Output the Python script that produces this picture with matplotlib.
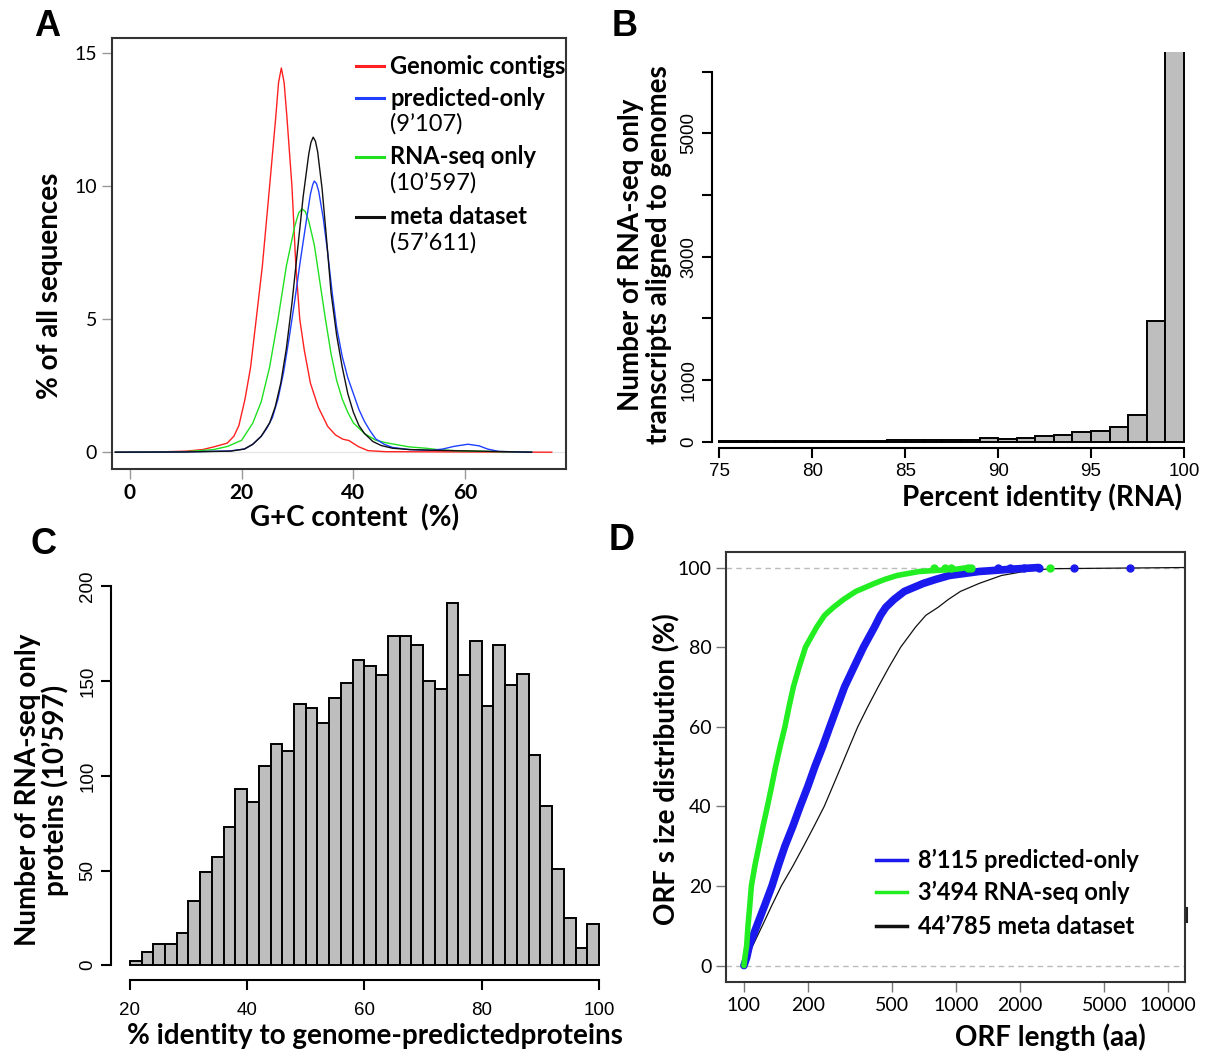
import matplotlib
matplotlib.use("Agg")
import matplotlib.pyplot as plt
from matplotlib.lines import Line2D

# ---- Panel A: G+C content density curves (x = %GC, y = % of sequences)
gc_red_x = [-2.6, 5, 10, 13, 15, 17.4, 18.6, 19.5, 20.6, 21.6, 22.6, 23.7, 25.0, 26.1, 26.6,
            27.1, 27.6, 28.1, 29.0, 29.7, 30.4, 31.2, 32.3, 33.7, 35.4, 36.8, 38.1, 39.2,
            40.9, 42.6, 45.7, 60, 75.5]
gc_red_y = [0.0, 0.01, 0.04, 0.1, 0.2, 0.34, 0.6, 1.0, 2.0, 3.2, 5.0, 7.0, 10.0, 12.6, 13.9,
            14.45, 13.9, 12.6, 10.0, 7.0, 5.0, 3.85, 2.6, 1.7, 0.97, 0.65, 0.49, 0.44,
            0.21, 0.06, 0.02, 0.01, 0.0]
gc_green_x = [-2.6, 10, 15, 17.5, 20, 22, 23.5, 25, 26.5, 28, 29.5, 30.2, 30.8, 31.4, 32, 33,
              34, 35, 36, 37, 38, 39, 40, 42, 44, 46, 50, 53, 55, 58, 62, 66, 71.9]
gc_green_y = [0.0, 0.02, 0.1, 0.22, 0.45, 1.1, 1.9, 3.2, 5.0, 7.0, 8.5, 9.0, 9.15, 9.05,
              8.7, 7.8, 6.4, 5.0, 3.7, 2.7, 2.0, 1.5, 1.1, 0.7, 0.45, 0.35, 0.2, 0.15, 0.1,
              0.06, 0.04, 0.02, 0.0]
gc_blue_x = [-2.6, 10, 18, 20.5, 22, 23.5, 24.5, 25.5, 26.5, 27.5, 28.5, 29.5, 30.5, 31.5,
             32.3, 32.7, 33.0, 33.4, 33.8, 34.6, 35.4, 36.2, 37, 38, 39, 40, 41, 42, 43,
             44, 45.5, 47, 50, 54, 56, 58, 60.5, 62.5, 64, 66, 71.9]
gc_blue_y = [0.0, 0.01, 0.05, 0.12, 0.3, 0.6, 0.9, 1.3, 2.0, 3.0, 4.3, 5.7, 7.2, 8.6,
             9.7, 10.05, 10.2, 10.1, 9.8, 8.8, 7.5, 6.0, 4.7, 3.6, 2.8, 2.2, 1.6, 1.15,
             0.8, 0.5, 0.3, 0.18, 0.1, 0.07, 0.12, 0.22, 0.3, 0.24, 0.12, 0.03, 0.0]
gc_black_x = [-2.6, 10, 18, 20.5, 22, 23.5, 25, 26, 27, 28, 29, 30, 31, 32, 32.4, 32.8,
              33.2, 33.6, 34.4, 35.2, 36, 37, 38, 39, 40, 41, 42, 43.5, 45, 47, 50, 55,
              60, 65, 71.9]
gc_black_y = [0.0, 0.01, 0.04, 0.12, 0.3, 0.6, 1.1, 1.7, 2.6, 3.9, 5.6, 7.6, 9.6, 11.2,
              11.65, 11.85, 11.7, 11.3, 9.9, 8.0, 6.0, 4.4, 3.2, 2.2, 1.5, 1.0, 0.7, 0.4,
              0.25, 0.15, 0.1, 0.07, 0.05, 0.03, 0.0]
gc_names = ["Genomic contigs", "predicted-only", "RNA-seq only", "meta dataset"]
gc_counts = ["", "(9\u2019107)", "(10\u2019597)", "(57\u2019611)"]
gc_colors = ["#ff2020", "#2040ff", "#20e020", "#111111"]

# ---- Panel B: percent identity (RNA), 1% bins
rna_bins = list(range(75, 100))
rna_counts = [10, 8, 8, 10, 10, 15, 15, 15, 15, 25, 25, 35, 30, 32, 65, 49, 59, 95,
              103, 151, 178, 243, 425, 1960, 6400]

# ---- Panel C: % identity to genome-predicted proteins, 2% bins
prot_bins = list(range(20, 100, 2))
prot_counts = [2, 7, 11, 11, 17, 34, 49, 57, 73, 93, 86, 105, 117, 113, 138, 136, 128,
               141, 149, 161, 158, 153, 174, 174, 169, 150, 146, 191, 153, 171, 137, 169,
               148, 154, 111, 84, 51, 25, 9, 22]

# ---- Panel D: cumulative ORF size distribution (x = ORF length, y = %)
orf_green_x = [100, 101, 103, 104.5, 106.5, 108.4, 112.5, 117.6, 123, 129, 135, 141, 148,
               156, 163, 171, 182, 195, 220, 240, 264, 295, 337, 412, 460, 527, 670, 1005,
               1135]
orf_green_y = [0, 2, 5, 10, 15, 20, 25, 30, 35, 40, 45, 50, 55, 60, 65, 70, 75, 80, 85,
               88, 90, 92, 94, 96, 97, 98, 99, 99.6, 100]
orf_green_tail = [788, 890, 948, 1135, 1180, 2770]
orf_blue_x = [100, 103, 106, 115, 125, 135.5, 145, 156, 170, 184, 200, 216, 235, 254, 275,
              298, 330, 366, 412, 440, 466, 510, 570, 700, 800, 929, 1283, 1845, 2450]
orf_blue_y = [0, 2, 5, 10, 15, 20, 25, 30, 35, 40, 45, 50, 55, 60, 65, 70, 75, 80, 85, 88,
              90, 92, 94, 96, 97, 98, 99, 99.6, 100]
orf_blue_tail = [1570, 1800, 2100, 2450, 3580, 6600]
orf_black_x = [100, 104, 110, 122, 135, 150, 170, 191, 214, 239, 262, 287, 314, 344, 383,
               429, 483, 548, 643, 720, 822, 920, 1048, 1283, 1636, 2085, 2770, 11988]
orf_black_y = [0, 2, 5, 10, 15, 20, 25, 30, 35, 40, 45, 50, 55, 60, 65, 70, 75, 80, 85,
               88, 90, 92, 94, 96, 98, 99, 99.7, 100]
orf_labels = ["8\u2019115 predicted-only", "3\u2019494 RNA-seq only", "44\u2019785 meta dataset"]
orf_colors = ["#1a1aee", "#22ee22", "#111111"]

W, H = 1206, 1052
LAB = "Lato"
LSZ = 20
fig = plt.figure(figsize=(W / 100, H / 100), dpi=100)


def box(l, t, r, b):
    return [l / W, 1 - b / H, (r - l) / W, (b - t) / H]


def ftext(x, y, s, **kw):
    kw.setdefault("ha", "center")
    kw.setdefault("va", "center")
    fig.text(x / W, 1 - y / H, s, **kw)


def fline(x0, x1, y0, y1, **kw):
    fig.add_artist(Line2D([x0 / W, x1 / W], [1 - y0 / H, 1 - y1 / H], transform=fig.transFigure, **kw))


# ---------------- A
axA = fig.add_axes(box(111.5, 37.7, 565.7, 468.7))
axA.axhline(0, color="#e6e6e6", lw=1, zorder=0)
for xs, ys, c in [(gc_red_x, gc_red_y, gc_colors[0]), (gc_green_x, gc_green_y, gc_colors[2]),
                  (gc_blue_x, gc_blue_y, gc_colors[1]), (gc_black_x, gc_black_y, gc_colors[3])]:
    axA.plot(xs, ys, color=c, lw=1.0, solid_joinstyle="round")
axA.set_xlim(-3.3, 78.0)
axA.set_ylim(-0.62, 15.59)
axA.set_xticks([0, 20, 40, 60])
axA.set_yticks([0, 5, 10, 15])
axA.tick_params(direction="out", length=7, color="#999999", width=1, labelsize=14)
for lab in axA.get_xticklabels():
    lab.set_fontfamily(LAB)
    lab.set_fontweight("bold")
    lab.set_fontsize(15)
for lab in axA.get_yticklabels():
    lab.set_fontfamily(LAB)
for s in axA.spines.values():
    s.set_color("#333333")
    s.set_linewidth(1.5)

rows = [(66, None), (98, 124), (157, 183), (217, 243)]
for (yl, yc), name, cnt, col in zip(rows, gc_names, gc_counts, gc_colors):
    fline(356, 384, yl, yl, color=col, lw=2.2)
    ftext(390, yl, name, ha="left", family=LAB, fontweight="bold", fontsize=17)
    if yc is not None:
        ftext(390, yc, cnt, ha="left", family=LAB, fontsize=17)

ftext(355, 518, "G+C content  (%)", family=LAB, fontweight="bold", fontsize=LSZ)
ftext(50, 286, "% of all sequences", family=LAB, fontweight="bold", fontsize=LSZ, rotation=90)

# ---------------- B
axB = fig.add_axes(box(712, 51.7, 1191.4, 448))
axB.bar(rna_bins, rna_counts, width=1, align="edge", color="#bebebe", edgecolor="black", lw=1.4)
axB.set_xlim(74.6, 100.4)
axB.set_ylim(-102, 6324)
for k in ["top", "right"]:
    axB.spines[k].set_visible(False)
axB.spines["left"].set_bounds(0, 6000)
axB.spines["bottom"].set_bounds(75, 100)
for k in ["left", "bottom"]:
    axB.spines[k].set_linewidth(1.5)
axB.set_yticks(range(0, 6001, 1000))
axB.set_yticklabels(["0", "1000", "", "3000", "", "5000", ""])
axB.set_xticks(range(75, 101, 5))
axB.tick_params(direction="out", length=7, width=1.5, labelsize=13.5)
axB.tick_params(axis="y", labelrotation=90)
for lab in axB.get_yticklabels():
    lab.set_va("center")
for lab in axB.get_xticklabels() + axB.get_yticklabels():
    lab.set_fontfamily("Liberation Sans")

ftext(1042, 497, "Percent identity (RNA)", family=LAB, fontweight="bold", fontsize=LSZ)
ftext(645, 255, "Number of RNA-seq only\ntranscripts aligned to genomes", family=LAB,
      fontweight="bold", fontsize=LSZ, rotation=90, linespacing=1.12, multialignment="center")

# ---------------- C
axC = fig.add_axes(box(111, 585.5, 617.8, 979.7))
axC.bar(prot_bins, prot_counts, width=2, align="edge", color="#bebebe", edgecolor="black", lw=1.4)
axC.set_xlim(16.8, 103.2)
axC.set_ylim(-7.66, 200.5)
for k in ["top", "right"]:
    axC.spines[k].set_visible(False)
axC.spines["left"].set_bounds(0, 200)
axC.spines["bottom"].set_bounds(20, 100)
for k in ["left", "bottom"]:
    axC.spines[k].set_linewidth(1.5)
axC.set_yticks(range(0, 201, 50))
axC.set_xticks(range(20, 101, 20))
axC.tick_params(direction="out", length=7, width=1.5, labelsize=13.5)
axC.tick_params(axis="x", pad=9)
axC.tick_params(axis="y", labelrotation=90)
for lab in axC.get_yticklabels():
    lab.set_va("center")
for lab in axC.get_xticklabels() + axC.get_yticklabels():
    lab.set_fontfamily("Liberation Sans")

ftext(375, 1036, "% identity to genome-predictedproteins", family=LAB, fontweight="bold", fontsize=LSZ)
ftext(42, 790, "Number of RNA-seq only\nproteins (10\u2019597)", family=LAB,
      fontweight="bold", fontsize=LSZ, rotation=90, linespacing=1.05, multialignment="center")

# ---------------- D
axD = fig.add_axes(box(726, 552, 1185, 982.3))
axD.set_xscale("log")
axD.axhline(0, color="#bbbbbb", lw=1, ls=(0, (4, 3)), zorder=0)
axD.axhline(100, color="#bbbbbb", lw=1, ls=(0, (4, 3)), zorder=0)
axD.plot(orf_black_x, orf_black_y, color=orf_colors[2], lw=0.9)
axD.plot(orf_blue_x, orf_blue_y, color=orf_colors[0], lw=5.5, solid_capstyle="round", solid_joinstyle="round")
axD.plot(orf_blue_tail, [100] * len(orf_blue_tail), "o", color=orf_colors[0], ms=5, ls="none")
axD.plot(orf_green_x, orf_green_y, color=orf_colors[1], lw=4.0, solid_capstyle="round", solid_joinstyle="round")
axD.plot(orf_green_tail, [100] * len(orf_green_tail), "o", color=orf_colors[1], ms=5, ls="none")
axD.set_xlim(82.3, 11988)
axD.set_ylim(-4.2, 103.9)
axD.set_xticks([100, 200, 500, 1000, 2000, 5000, 10000])
axD.set_xticklabels(["100", "200", "500", "1000", "2000", "5000", "10000"])
axD.xaxis.set_minor_locator(matplotlib.ticker.NullLocator())
axD.set_yticks(range(0, 101, 20))
axD.tick_params(direction="out", length=7, color="#777777", width=1, labelsize=14)
for lab in axD.get_xticklabels() + axD.get_yticklabels():
    lab.set_fontfamily(LAB)
for s in axD.spines.values():
    s.set_color("#333333")
    s.set_linewidth(1.5)

for yl, name, col in zip([860, 892, 926], orf_labels, orf_colors):
    fline(876, 907, yl, yl, color=col, lw=2.5)
    ftext(918, yl, name, ha="left", family=LAB, fontweight="bold", fontsize=17)
fline(1187, 1187, 908, 922, color="#222222", lw=1.5)

ftext(1050, 1037, "ORF length (aa)", family=LAB, fontweight="bold", fontsize=LSZ)
ftext(667, 769, "ORF s ize distribution (%)", family=LAB, fontweight="bold", fontsize=LSZ, rotation=90)

# panel letters
for x, y, s in [(47, 26, "A"), (625, 26, "B"), (44, 545, "C"), (622, 540, "D")]:
    ftext(x, y, s, family="Liberation Sans", fontweight="bold", fontsize=26)

fig.savefig("out.png", dpi=100)
